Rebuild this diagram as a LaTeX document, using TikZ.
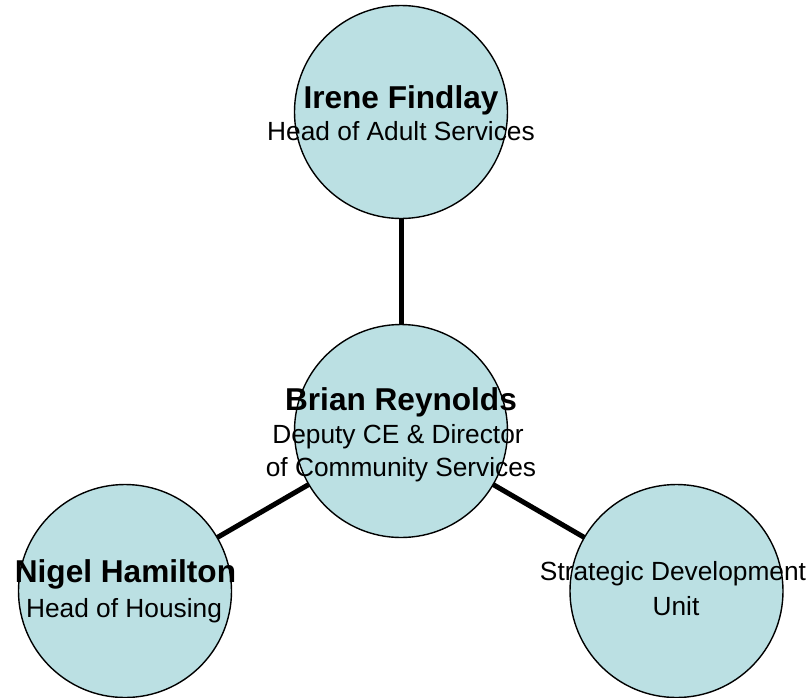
\documentclass[tikz,border=0pt]{standalone}
\usepackage{fontspec}
\setmainfont{Liberation Sans}
\usetikzlibrary{backgrounds}
\definecolor{bubble}{RGB}{187,224,227}
\tikzset{
  person/.style={circle, draw=black, line width=1.4pt, fill=bubble, minimum size=213pt, inner sep=0pt},
  link/.style={line width=5pt, draw=black},
  namefont/.style={anchor=base, inner sep=0pt, font=\fontsize{31.6}{36}\selectfont\bfseries},
  rolefont/.style={anchor=base, inner sep=0pt, font=\fontsize{26.3}{32}\selectfont}
}
\begin{document}
\begin{tikzpicture}[x=1pt, y=-1pt]
\useasboundingbox (0,0) rectangle (811,697);
\node[person] (top) at (401,112) {};
\node[person] (mid) at (401,431) {};
\node[person] (left) at (125,591) {};
\node[person] (right) at (676.5,591) {};
\begin{scope}[on background layer]
  \draw[link] (mid.center) -- (top.center);
  \draw[link] (mid.center) -- (left.center);
  \draw[link] (mid.center) -- (right.center);
\end{scope}
\node[namefont] (topname) at (401,108) {Irene Findlay};
\node[rolefont] (toprole) at (401,140) {Head of Adult Services};
\node[namefont] (midname) at (401,410) {Brian Reynolds};
\node[rolefont] (midrole1) at (398,443) {Deputy CE \& Director};
\node[rolefont] (midrole2) at (401,476) {of Community Services};
\node[namefont] (leftname) at (125.5,582) {Nigel Hamilton};
\node[rolefont] (leftrole) at (124,617) {Head of Housing};
\node[rolefont] (rightrole1) at (673,580) {Strategic Development};
\node[rolefont] (rightrole2) at (676,615) {Unit};
\end{tikzpicture}
\end{document}
